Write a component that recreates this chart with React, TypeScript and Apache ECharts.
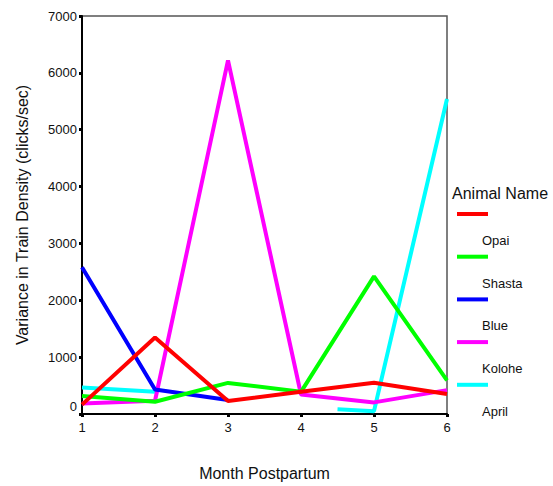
import React, { useEffect, useRef } from "react";
import * as echarts from "echarts";

// Months postpartum on the x axis
const months = [1, 2, 3, 4, 5, 6];
const yTicks = [0, 1000, 2000, 3000, 4000, 5000, 6000, 7000];

// Legend order (top to bottom)
const animalNames = ["Opai", "Shasta", "Blue", "Kolohe", "April"];
const animalColors = ["#ff0000", "#00ff00", "#0000ff", "#ff00ff", "#00ffff"];

// Variance in train density per animal, [month, value]
const opai: (number | string)[][] = [
  [1, 165], [2, 1345], [3, 228], [4, 390], [5, 550], [6, 350],
];
const shasta: (number | string)[][] = [
  [1, 315], [2, 216], [3, 547], [4, 390], [5, 2420], [6, 592],
];
const blue: (number | string)[][] = [
  [1, 2580], [2, 430], [3, 245],
];
const kolohe: (number | string)[][] = [
  [1, 186], [2, 233], [3, 6220], [4, 343], [5, 204], [6, 420],
];
const april: (number | string)[][] = [
  [1, 465], [2, 390], [3, "-"], [4.5, 82], [5, 50], [6, 5540],
];

const seriesData = [opai, shasta, blue, kolohe, april];

const FONT = "Liberation Sans, Arial, sans-serif";

export default function App() {
  const ref = useRef<HTMLDivElement>(null);

  useEffect(() => {
    if (!ref.current) return;
    const chart = echarts.init(ref.current, null, { renderer: "svg" });

    // Draw the last-listed animal first so Opai ends up on top
    const order = animalNames.map((_, i) => i).reverse();
    const series = order.map((i) => ({
      name: animalNames[i],
      type: "line" as const,
      data: seriesData[i],
      showSymbol: false,
      connectNulls: false,
      lineStyle: { color: animalColors[i], width: 4 },
      itemStyle: { color: animalColors[i] },
    }));

    // Legend: title, then a line sample with its label set below-right
    const legendX = 457;
    const legendTop = 214;
    const legendStep = 42.7;
    const legendItems: any[] = [
      {
        type: "text",
        left: 452,
        top: 185,
        style: { text: "Animal Name", fontSize: 16, fontFamily: FONT, fill: "#111" },
      },
    ];
    animalNames.forEach((name, i) => {
      const y = legendTop + i * legendStep;
      legendItems.push({
        type: "rect",
        shape: { x: legendX, y: y - 2, width: 31, height: 4 },
        style: { fill: animalColors[i] },
      });
      legendItems.push({
        type: "text",
        x: 482,
        y: y + 26.5,
        style: {
          text: name,
          fontSize: 13,
          fontFamily: FONT,
          fill: "#111",
          verticalAlign: "middle",
        },
      });
    });

    chart.setOption({
      animation: false,
      backgroundColor: "#fff",
      grid: {
        left: 82,
        right: 106,
        top: 16,
        bottom: 69,
        show: true,
        borderColor: "#555",
        borderWidth: 1.5,
        backgroundColor: "transparent",
      },
      xAxis: {
        type: "value",
        min: months[0],
        max: months[months.length - 1],
        interval: 1,
        name: "Month Postpartum",
        nameLocation: "middle",
        nameGap: 51,
        nameTextStyle: { fontSize: 16, fontFamily: FONT, color: "#111" },
        axisLine: { show: true, onZero: false, lineStyle: { color: "#000", width: 2 } },
        axisTick: { show: true, length: 3, lineStyle: { color: "#000", width: 3 } },
        axisLabel: { fontSize: 13, fontFamily: FONT, color: "#111", margin: 7 },
        splitLine: { show: false },
      },
      yAxis: {
        type: "value",
        min: yTicks[0],
        max: yTicks[yTicks.length - 1],
        interval: 1000,
        name: "Variance in Train Density (clicks/sec)",
        nameLocation: "middle",
        nameGap: 52,
        nameTextStyle: { fontSize: 16, fontFamily: FONT, color: "#111" },
        axisLine: { show: true, lineStyle: { color: "#000", width: 2 } },
        axisTick: { show: true, length: 3, lineStyle: { color: "#000", width: 3 } },
        axisLabel: {
          fontSize: 13,
          fontFamily: FONT,
          color: "#111",
          margin: 5,
          formatter: (v: number) => (v === 0 ? "{z|0}" : String(v)),
          rich: {
            z: {
              fontSize: 13,
              fontFamily: FONT,
              color: "#111",
              padding: [0, 0, 16, 0],
            },
          },
        },
        splitLine: { show: false },
      },
      series,
      graphic: legendItems,
    });

    return () => chart.dispose();
  }, []);

  return (
    <div
      ref={ref}
      style={{ position: "fixed", left: 0, top: 0, width: 553, height: 486 }}
    />
  );
}
